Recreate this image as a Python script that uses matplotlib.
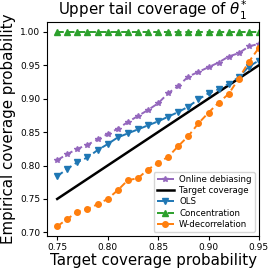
import matplotlib
matplotlib.use("Agg")
import matplotlib.pyplot as plt

target = [0.75, 0.76, 0.77, 0.78, 0.79, 0.80, 0.81, 0.82, 0.83, 0.84, 0.85,
          0.86, 0.87, 0.88, 0.89, 0.90, 0.91, 0.92, 0.93, 0.94, 0.95]
online_debiasing = [0.808, 0.817, 0.825, 0.831, 0.839, 0.847, 0.855, 0.865, 0.874, 0.883, 0.893,
                    0.908, 0.919, 0.933, 0.940, 0.947, 0.954, 0.963, 0.968, 0.978, 0.982]
ols = [0.784, 0.795, 0.805, 0.812, 0.823, 0.832, 0.842, 0.848, 0.854, 0.860, 0.866,
       0.873, 0.880, 0.888, 0.899, 0.908, 0.914, 0.922, 0.932, 0.948, 0.957]
concentration = [1.0] * 21
w_decorrelation = [0.709, 0.720, 0.731, 0.735, 0.742, 0.750, 0.763, 0.778, 0.781, 0.794, 0.804,
                   0.813, 0.829, 0.844, 0.863, 0.879, 0.894, 0.907, 0.930, 0.955, 0.976]

fig = plt.figure(figsize=(2.74, 2.72), dpi=100)
ax = fig.add_axes([0.172, 0.132, 0.773, 0.787])

kw = dict(lw=1.4, ms=4, dashes=(3.5, 2))
ax.plot(target, online_debiasing, ls='--', marker='*', color='tab:purple', label='Online debiasing', **kw)
ax.plot(target, target, ls='-', color='black', lw=1.8, label='Target coverage')
ax.plot(target, ols, ls='--', marker='v', color='tab:blue', label='OLS', **kw)
ax.plot(target, concentration, ls='--', marker='^', color='tab:green', label='Concentration', **kw)
ax.plot(target, w_decorrelation, ls='--', marker='o', color='tab:orange', label='W-decorrelation', **kw)

ax.set_xlim(0.74, 0.95)
ax.set_xticks([0.75, 0.80, 0.85, 0.90, 0.95])
ax.set_yticks([0.70, 0.75, 0.80, 0.85, 0.90, 0.95, 1.00])
ax.tick_params(labelsize=6.5, length=3, pad=2)
ax.set_xlabel('Target coverage probability', fontsize=10.8, labelpad=1)
ax.set_ylabel('Empirical coverage probability', fontsize=10.8, labelpad=3)
ax.set_title(r'Upper tail coverage of $\theta_1^{*}$', fontsize=10.8, pad=3)
ax.legend(loc='lower right', fontsize=6.2, handlelength=2, borderpad=0.35, labelspacing=0.25,
          handletextpad=0.6)

fig.savefig('out.png', dpi=100)
